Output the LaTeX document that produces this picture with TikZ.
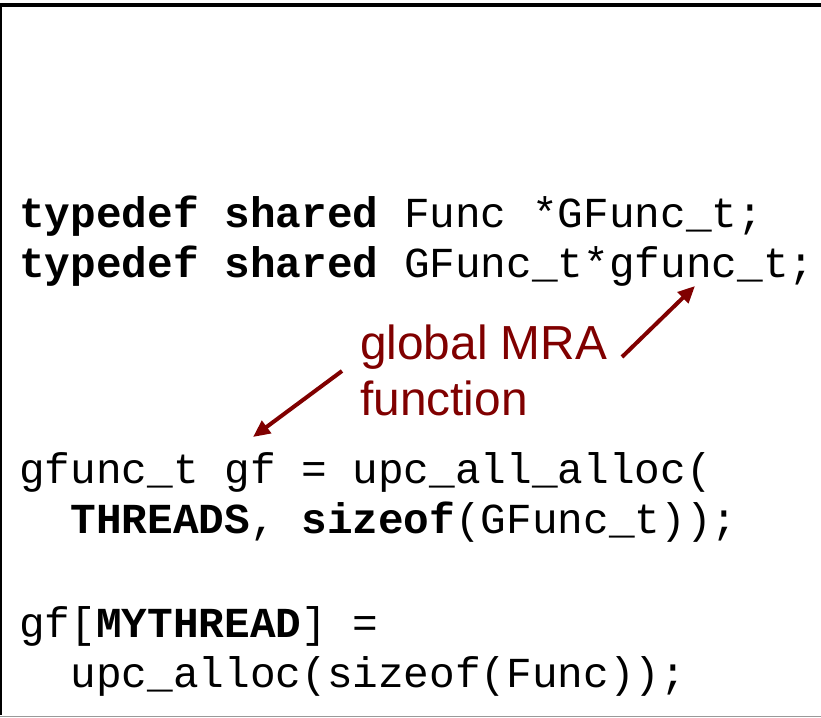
\documentclass[tikz,border=0pt]{standalone}
\usepackage{fontspec}
\setmainfont{Liberation Sans}
\setmonofont{Liberation Mono}
\usetikzlibrary{arrows.meta}
\definecolor{notered}{RGB}{128,0,0}
\begin{document}
\begin{tikzpicture}[x=1pt,y=-1pt,
  code/.style={anchor=base west, inner sep=0pt, font=\fontsize{42.75}{50}\selectfont\ttfamily},
  note/.style={anchor=base west, inner sep=0pt, font=\fontsize{47.8}{56}\selectfont, text=notered},
  pointer/.style={draw=notered, line width=4pt, -{Triangle[length=17pt,width=15pt]}}]
\useasboundingbox (0,0) rectangle (821,717);
% frame
\draw[line width=3.5pt] (0.3,715) -- (0.3,5) -- (821,5);
\draw[gray!80, line width=1pt] (0,716.3) -- (821,716.3);
% declarations
\node[code] (decl1) at (19,227) {\textbf{typedef shared} Func *GFunc\_t;};
\node[code] (decl2) at (19,277) {\textbf{typedef shared} GFunc\_t*gfunc\_t;};
% annotation
\node[note] (noteA) at (360,359) {global MRA};
\node[note] (noteB) at (360,415) {function};
\coordinate (p1s) at (342,371);
\coordinate (p1e) at (253,437);
\coordinate (p2s) at (622,357);
\coordinate (p2e) at (695,286);
\draw[pointer] (p1s) -- (p1e);
\draw[pointer] (p2s) -- (p2e);
% allocation code
\node[code] (code1) at (19,483) {gfunc\_t gf = upc\_all\_alloc(};
\node[code] (code2) at (70.3,533) {\textbf{THREADS}, \textbf{sizeof}(GFunc\_t));};
\node[code] (code3) at (19,637) {gf[\textbf{MYTHREAD}] =};
\node[code] (code4) at (70.3,687) {upc\_alloc(sizeof(Func));};
\end{tikzpicture}
\end{document}
